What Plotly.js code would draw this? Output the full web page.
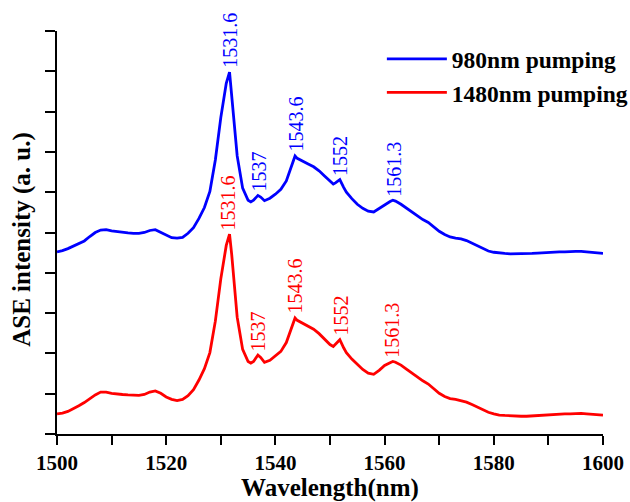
<!DOCTYPE html>
<html>
<head>
<meta charset="utf-8">
<script src="https://cdn.plot.ly/plotly-3.0.1.min.js"></script>
<style>html,body{margin:0;padding:0;background:#fff}#chart{width:630px;height:502px}</style>
</head>
<body>
<div id="chart"></div>
<script>
// Wavelength (nm)
const wavelength = [1500,1501,1502,1503,1504,1505,1506,1507,1508,1509,1510,1511,1512,1513,1514,1515,1516,1517,1518,1519,1520,1521,1522,1523,1524,1525,1526,1527,1528,1529,1530,1531,1531.6,1532,1533,1534,1535,1535.5,1536,1536.8,1537.3,1538,1539,1540,1541,1542,1543,1543.6,1544,1545,1546,1547,1548,1549,1550,1550.6,1551,1551.8,1552.5,1553,1554,1555,1556,1557,1558,1559,1560,1561,1561.5,1562,1563,1564,1565,1566,1567,1568,1569,1570,1571,1572,1573,1574,1575,1576,1577,1578,1579,1580,1581,1582,1583,1584,1585,1586,1587,1588,1589,1590,1591,1592,1593,1594,1595,1596,1597,1598,1599,1600];
// ASE intensity, 980 nm pumping
const ase980 = [4.52,4.55,4.60,4.66,4.72,4.79,4.90,5.00,5.06,5.07,5.04,5.02,5.00,4.99,4.98,4.98,5.00,5.05,5.07,5.01,4.93,4.87,4.86,4.88,4.98,5.12,5.35,5.62,6.02,6.80,7.85,8.70,8.98,8.40,6.90,6.10,5.80,5.76,5.80,5.92,5.88,5.79,5.85,5.95,6.07,6.28,6.65,6.90,6.84,6.76,6.70,6.63,6.53,6.40,6.26,6.20,6.23,6.31,6.12,6.00,5.84,5.70,5.60,5.53,5.51,5.60,5.70,5.77,5.80,5.78,5.70,5.60,5.50,5.40,5.32,5.25,5.13,5.03,4.95,4.89,4.86,4.84,4.80,4.73,4.66,4.59,4.54,4.51,4.49,4.48,4.47,4.47,4.47,4.48,4.48,4.49,4.50,4.51,4.51,4.52,4.52,4.53,4.53,4.53,4.52,4.51,4.49,4.48];
// ASE intensity, 1480 nm pumping
const ase1480 = [0.50,0.52,0.56,0.62,0.70,0.78,0.88,0.97,1.04,1.04,1.01,0.99,0.98,0.97,0.96,0.96,0.98,1.04,1.07,1.01,0.92,0.86,0.83,0.86,0.95,1.10,1.34,1.62,2.02,2.80,3.85,4.68,4.96,4.45,2.90,2.10,1.80,1.76,1.80,1.96,1.90,1.78,1.83,1.93,2.05,2.27,2.62,2.88,2.82,2.74,2.68,2.60,2.49,2.36,2.22,2.17,2.22,2.34,2.14,2.02,1.86,1.72,1.60,1.51,1.48,1.58,1.70,1.77,1.80,1.78,1.71,1.61,1.51,1.41,1.32,1.24,1.12,1.01,0.93,0.88,0.86,0.83,0.79,0.73,0.66,0.59,0.54,0.50,0.47,0.46,0.45,0.44,0.44,0.44,0.45,0.46,0.47,0.48,0.49,0.49,0.50,0.50,0.51,0.51,0.50,0.49,0.48,0.47];

const seriesNames = ["980nm pumping", "1480nm pumping"];
const peakLabels = ["1531.6", "1537", "1543.6", "1552", "1561.3"];
const peakX980 = [1531.7, 1537.0, 1543.8, 1551.7, 1561.7];
const peakX1480 = [1531.3, 1536.9, 1543.6, 1552.0, 1561.3];
const xTickVals = [1500,1510,1520,1530,1540,1550,1560,1570,1580,1590,1600];
const xTickText = ["1500","","1520","","1540","","1560","","1580","","1600"];
const yTickVals = [0,1,2,3,4,5,6,7,8,9,10];
const yTitle = "ASE intensity (a. u.)";

const FONT = "Liberation Serif, Times New Roman, serif";

function valueAt(xs, ys, x) {
  for (let i = 0; i < xs.length - 1; i++) {
    if (x >= xs[i] && x <= xs[i+1]) {
      const t = (x - xs[i]) / (xs[i+1] - xs[i]);
      return ys[i] + t * (ys[i+1] - ys[i]);
    }
  }
  return ys[ys.length-1];
}
function maxNear(xs, ys, x) {
  let m = -Infinity;
  for (let i = 0; i < xs.length; i++) if (Math.abs(xs[i]-x) <= 0.8) m = Math.max(m, ys[i]);
  return Math.max(m, valueAt(xs, ys, x));
}

const annotations = [];
function addLabels(px, ys, color) {
  peakLabels.forEach((t, i) => {
    annotations.push({
      x: px[i], y: maxNear(wavelength, ys, px[i]), xref: 'x', yref: 'y',
      text: t, showarrow: false, textangle: -90,
      xanchor: 'center', yanchor: 'bottom', yshift: 2,
      font: {family: FONT, size: 20, color: color}
    });
  });
}
addLabels(peakX980, ase980, '#0000ff');
addLabels(peakX1480, ase1480, '#ff0000');
// y-axis title placed as a rotated annotation
annotations.push({
  x: -0.064, y: 0.482, xref: 'paper', yref: 'paper', text: yTitle, showarrow: false,
  textangle: -90, xanchor: 'center', yanchor: 'middle',
  font: {family: FONT, size: 25, weight: 'bold', color: '#000'}
});

const traces = [
  {x: wavelength, y: ase980, type: 'scatter', mode: 'lines', name: seriesNames[0],
   line: {color: '#0000ff', width: 2.8}},
  {x: wavelength, y: ase1480, type: 'scatter', mode: 'lines', name: seriesNames[1],
   line: {color: '#ff0000', width: 2.8}}
];

const layout = {
  width: 630, height: 502,
  margin: {l: 57, r: 27, t: 31, b: 68, pad: 0, autoexpand: false},
  paper_bgcolor: '#fff', plot_bgcolor: '#fff',
  font: {family: FONT, color: '#000'},
  showlegend: true,
  legend: {x: 0.595, y: 0.985, xanchor: 'left', yanchor: 'top', itemwidth: 60,
           bgcolor: 'rgba(0,0,0,0)', tracegroupgap: 0,
           font: {family: FONT, size: 23.5, weight: 'bold', color: '#000'}},
  xaxis: {
    range: [1500, 1600], showgrid: false, zeroline: false,
    showline: true, linecolor: '#000', linewidth: 2,
    ticks: 'outside', ticklen: 9, tickwidth: 2, tickcolor: '#000',
    tickvals: xTickVals, ticktext: xTickText,
    tickfont: {family: FONT, size: 21, weight: 'bold', color: '#000'},
    title: {text: 'Wavelength(nm)', font: {family: FONT, size: 25, weight: 'bold', color: '#000'}, standoff: 6}
  },
  yaxis: {
    range: [0, 10], showgrid: false, zeroline: false,
    showline: true, linecolor: '#000', linewidth: 2,
    ticks: 'outside', ticklen: 10, tickwidth: 2, tickcolor: '#000',
    tickvals: yTickVals, showticklabels: false
  },
  annotations: annotations
};

Plotly.newPlot('chart', traces, layout, {displayModeBar: false, staticPlot: true});
</script>
</body>
</html>
